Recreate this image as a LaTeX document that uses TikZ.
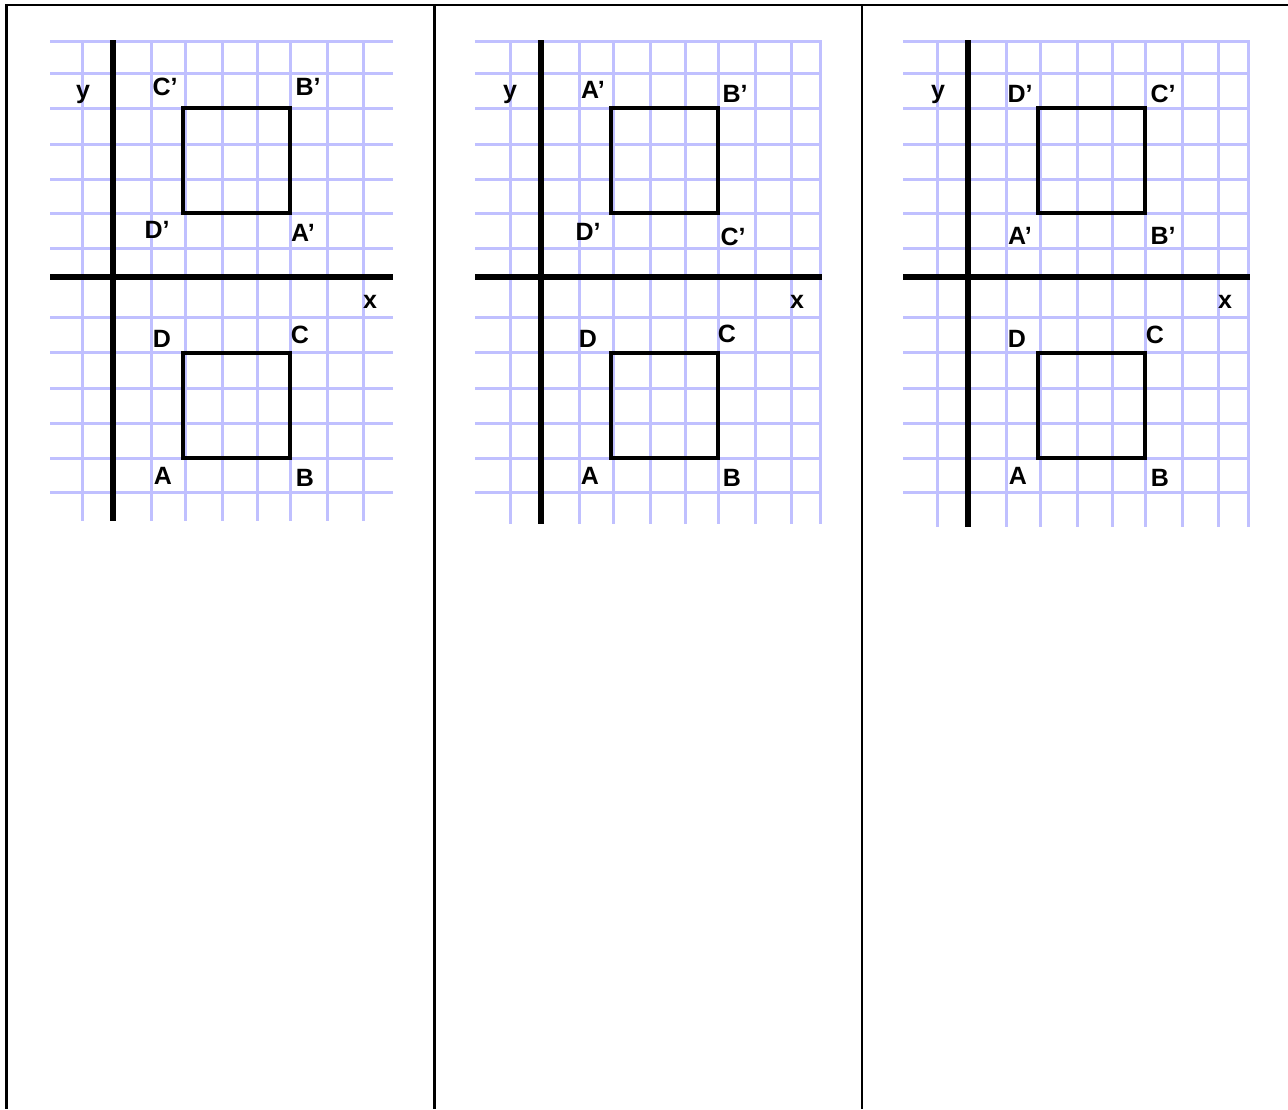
\documentclass[tikz,border=0pt]{standalone}
\usepackage{fontspec}
\setmainfont{Liberation Sans}
\definecolor{gridblue}{RGB}{192,192,255}
\tikzset{
  gridline/.style={draw=gridblue,line width=3pt},
  axisline/.style={draw=black,line width=5.5pt},
  sqline/.style={draw=black,line width=4.5pt,line join=miter},
  tableline/.style={draw=black,line width=2.2pt},
  lbl/.style={font=\fontsize{25}{25}\selectfont\bfseries,inner sep=0pt,anchor=center}
}
\begin{document}
\begin{tikzpicture}[x=1pt,y=-1pt]
\useasboundingbox (0,0) rectangle (1288,1109);
\fill[white] (0,0) rectangle (1288,1109);
% table rules
\coordinate (tTL) at (6.5,5);
\coordinate (tTR) at (1288,5);
\coordinate (tBL) at (6.5,1109);
\coordinate (d1t) at (434.5,5);
\coordinate (d1b) at (434.5,1109);
\coordinate (d2t) at (862,5);
\coordinate (d2b) at (862,1109);
\draw[tableline] (tTR) -- (tTL) -- (tBL);
\draw[tableline] (d1t) -- (d1b);
\draw[tableline] (d2t) -- (d2b);
% grid panels
\foreach \ax/\L/\R/\B/\edge in {113/50/393/521/0, 541/475/822/524/1, 968/903/1250/527/1}{
  \begin{scope}
    \clip (\L,40) rectangle (\R,\B);
    \foreach \dx in {-31,0,38,72,109,144,177,214,250}
      \draw[gridline] (\ax+\dx,40) -- (\ax+\dx,\B);
    \foreach \yy in {41.5,73,108,144,179,213,248,317,352,388,423,458,492}
      \draw[gridline] (\L,\yy) -- (\R,\yy);
    \ifnum\edge=1
      \draw[gridline] (\R-1.5,40) -- (\R-1.5,\B);
    \fi
  \end{scope}
  \draw[axisline] (\ax,40) -- (\ax,\B);
  \draw[axisline] (\L,277) -- (\R,277);
  \draw[sqline] (\ax+70,108) rectangle (\ax+177,213);
  \draw[sqline] (\ax+70,353) rectangle (\ax+177,458);
}
% panel 1 labels
\node[lbl] (p1y) at (83,94) {y};
\node[lbl] (p1Cp) at (165,87) {C'};
\node[lbl] (p1Bp) at (308,87) {B'};
\node[lbl] (p1Dp) at (157,230) {D'};
\node[lbl] (p1Ap) at (303,233) {A'};
\node[lbl] (p1x) at (370,302) {x};
\node[lbl] (p1D) at (162,339) {D};
\node[lbl] (p1C) at (300,335) {C};
\node[lbl] (p1A) at (163,476) {A};
\node[lbl] (p1B) at (305,478) {B};
% panel 2 labels
\node[lbl] (p2y) at (510,94) {y};
\node[lbl] (p2Ap) at (593,90) {A'};
\node[lbl] (p2Bp) at (735,94) {B'};
\node[lbl] (p2Dp) at (588,232) {D'};
\node[lbl] (p2Cp) at (733,237) {C'};
\node[lbl] (p2x) at (797,302) {x};
\node[lbl] (p2D) at (588,339) {D};
\node[lbl] (p2C) at (727,334) {C};
\node[lbl] (p2A) at (590,476) {A};
\node[lbl] (p2B) at (732,478) {B};
% panel 3 labels
\node[lbl] (p3y) at (938,94) {y};
\node[lbl] (p3Dp) at (1020,94) {D'};
\node[lbl] (p3Cp) at (1163,94) {C'};
\node[lbl] (p3Ap) at (1020,236) {A'};
\node[lbl] (p3Bp) at (1163,236) {B'};
\node[lbl] (p3x) at (1225,302) {x};
\node[lbl] (p3D) at (1017,339) {D};
\node[lbl] (p3C) at (1155,335) {C};
\node[lbl] (p3A) at (1018,476) {A};
\node[lbl] (p3B) at (1160,478) {B};
\end{tikzpicture}
\end{document}
